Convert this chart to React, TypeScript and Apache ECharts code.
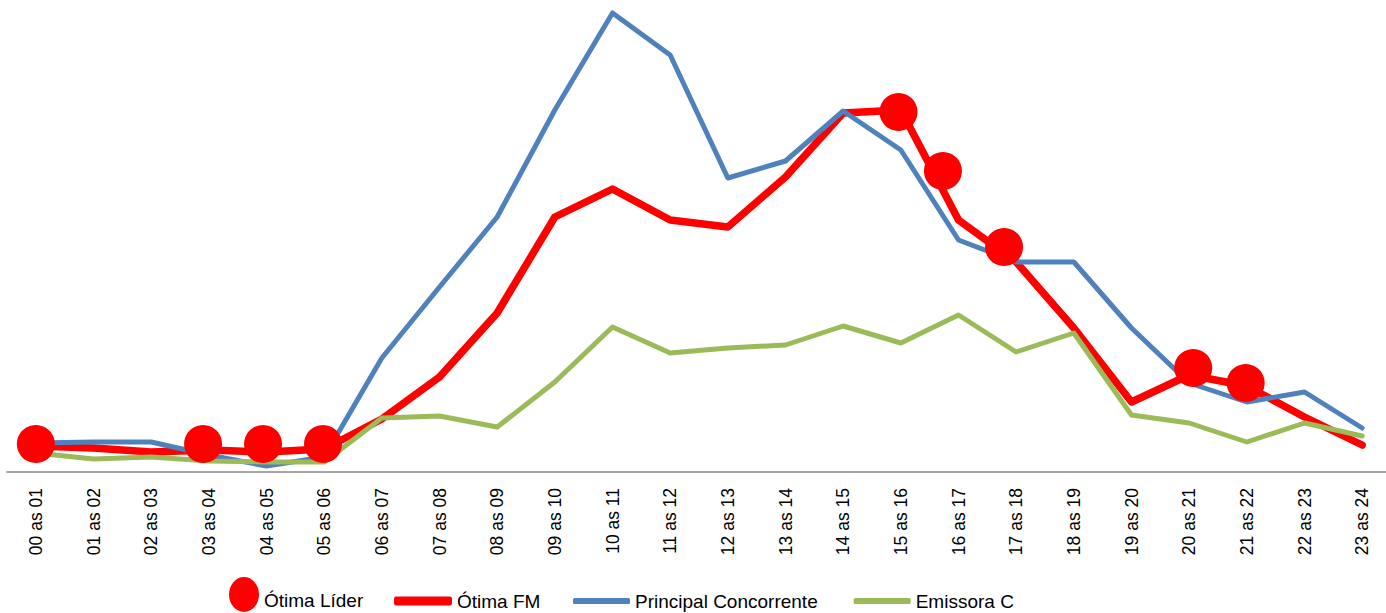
import React, { useEffect, useRef } from "react";
import * as echarts from "echarts";

const HOURS = [
  "00 as 01", "01 as 02", "02 as 03", "03 as 04", "04 as 05", "05 as 06",
  "06 as 07", "07 as 08", "08 as 09", "09 as 10", "10 as 11", "11 as 12",
  "12 as 13", "13 as 14", "14 as 15", "15 as 16", "16 as 17", "17 as 18",
  "18 as 19", "19 as 20", "20 as 21", "21 as 22", "22 as 23", "23 as 24",
];

const OTIMA_FM = [26, 24, 20, 22, 20, 23, 53, 95, 159, 255, 283, 252, 245, 295, 359, 362, 252, 210, 144, 70, 97, 86, 55, 27];
const PRINCIPAL = [29, 30, 30, 17, 6, 15, 114, 185, 255, 362, 459, 417, 294, 311, 361, 322, 232, 210, 210, 144, 89, 70, 80, 44];
const EMISSORA_C = [19, 13, 15, 11, 10, 10, 54, 56, 45, 90, 145, 119, 124, 127, 146, 129, 157, 120, 139, 57, 49, 30, 49, 36];

// Ótima Líder markers: position along the hour axis (category index) and value
const LIDER_POS = [0, 2.9, 3.94, 4.98, 14.96, 15.73, 16.79, 20.07, 20.98];
const LIDER_VAL = [28, 28, 28, 28, 360, 301, 225, 104, 89];

const RED = "#FF0000";
const BLUE = "#4F81BD";
const GREEN = "#9BBB59";
const FONT = "'Liberation Sans', Arial, sans-serif";

export default function App() {
  const ref = useRef<HTMLDivElement>(null);

  useEffect(() => {
    if (!ref.current) return;
    const chart = echarts.init(ref.current, null, { renderer: "svg" });
    const legendText = { fontFamily: FONT, fontSize: 19, color: "#000", lineHeight: 20 };
    chart.setOption({
      animation: false,
      grid: { left: 7, top: 0, width: 1384, height: 472, containLabel: false, outerBoundsMode: "none" },
      xAxis: [
        {
          type: "category",
          data: HOURS,
          boundaryGap: true,
          axisLine: { lineStyle: { color: "#A6A6A6", width: 2 } },
          axisTick: { show: false },
          splitLine: { show: false },
          axisLabel: {
            rotate: 90,
            interval: 0,
            margin: 16,
            fontFamily: FONT,
            fontSize: 17.5,
            color: "#000",
          },
        },
        { type: "value", min: -0.5, max: 23.5, show: false, gridIndex: 0 },
      ],
      yAxis: { type: "value", min: 0, max: 472, show: false },
      legend: [
        {
          data: ["Ótima Líder"],
          left: 229,
          top: 577,
          padding: 0,
          itemWidth: 30,
          itemHeight: 46,
          icon: "path://M15 0 A15 17.5 0 1 1 15 35 A15 17.5 0 1 1 15 0 Z M15 46",
          textStyle: legendText,
          selectedMode: false,
        },
        {
          data: ["Ótima FM"],
          left: 394,
          top: 591,
          padding: 0,
          itemWidth: 58,
          itemHeight: 9,
          icon: "roundRect",
          textStyle: legendText,
          selectedMode: false,
        },
        {
          data: ["Principal Concorrente", "Emissora C"],
          left: 573,
          top: 591,
          padding: 0,
          itemWidth: 57,
          itemHeight: 6,
          itemGap: 36,
          icon: "roundRect",
          textStyle: legendText,
          selectedMode: false,
        },
      ],
      series: [
        {
          name: "Ótima FM",
          type: "line",
          data: OTIMA_FM,
          symbol: "none",
          color: RED,
          lineStyle: { color: RED, width: 7.5, join: "round", cap: "round" },
          z: 2,
        },
        {
          name: "Principal Concorrente",
          type: "line",
          data: PRINCIPAL,
          symbol: "none",
          color: BLUE,
          lineStyle: { color: BLUE, width: 5, join: "round", cap: "round" },
          z: 3,
        },
        {
          name: "Emissora C",
          type: "line",
          data: EMISSORA_C,
          symbol: "none",
          color: GREEN,
          lineStyle: { color: GREEN, width: 5, join: "round", cap: "round" },
          z: 4,
        },
        {
          name: "Ótima Líder",
          type: "scatter",
          xAxisIndex: 1,
          data: LIDER_POS.map((p, i) => [p, LIDER_VAL[i]]),
          symbol: "circle",
          symbolSize: 38,
          color: RED,
          itemStyle: { color: RED, opacity: 1 },
          z: 6,
        },
      ],
    });
    return () => chart.dispose();
  }, []);

  return (
    <div
      ref={ref}
      style={{ position: "absolute", left: 0, top: 0, width: 1386, height: 613, background: "#fff" }}
    />
  );
}
